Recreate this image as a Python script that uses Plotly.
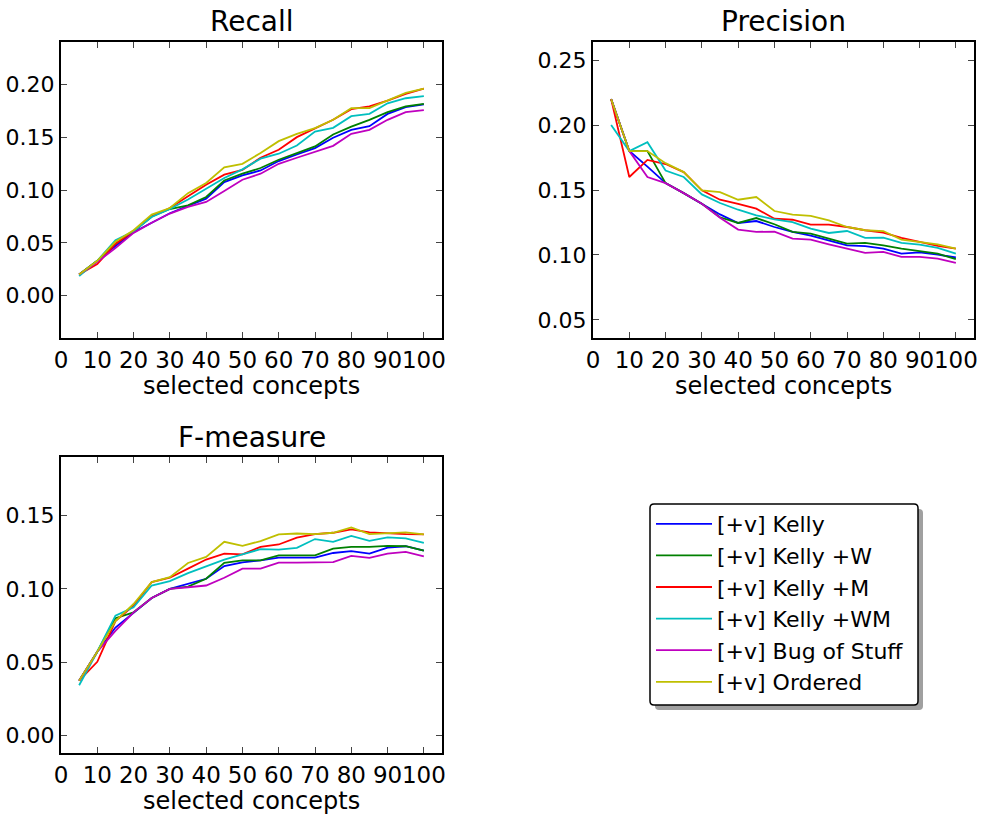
import plotly.graph_objects as go

concepts = [5, 10, 15, 20, 25, 30, 35, 40, 45, 50, 55, 60, 65, 70, 75, 80, 85, 90, 95, 100]

series_names = ["[+v] Kelly", "[+v] Kelly +W", "[+v] Kelly +M", "[+v] Kelly +WM",
                "[+v] Bug of Stuff", "[+v] Ordered"]
series_colors = ["#0000ff", "#008000", "#ff0000", "#00bfbf", "#bf00bf", "#bfbf00"]

recall_kelly   = [0.020, 0.033, 0.047, 0.060, 0.069, 0.078, 0.085, 0.0918, 0.1075, 0.1138, 0.1185, 0.1274, 0.1336, 0.1396, 0.1494, 0.1569, 0.1604, 0.1720, 0.1783, 0.1810]
recall_kelly_w = [0.020, 0.033, 0.049, 0.061, 0.075, 0.082, 0.0855, 0.0934, 0.1090, 0.1154, 0.1208, 0.1286, 0.1349, 0.1412, 0.1525, 0.1600, 0.1664, 0.1736, 0.1792, 0.1814]
recall_kelly_m = [0.020, 0.030, 0.049, 0.061, 0.075, 0.083, 0.094, 0.105, 0.1145, 0.1190, 0.1305, 0.1380, 0.1500, 0.1585, 0.1664, 0.1764, 0.1792, 0.1846, 0.1909, 0.1959]
recall_kelly_wm = [0.0186, 0.033, 0.0525, 0.061, 0.0745, 0.082, 0.091, 0.101, 0.1113, 0.1195, 0.1296, 0.1343, 0.1421, 0.1553, 0.1588, 0.1698, 0.1720, 0.1820, 0.1868, 0.1887]
recall_bug     = [0.020, 0.032, 0.045, 0.0594, 0.069, 0.0777, 0.084, 0.0887, 0.099, 0.1097, 0.1154, 0.1248, 0.1305, 0.1358, 0.1418, 0.1531, 0.1569, 0.1664, 0.1736, 0.1755]
recall_ordered = [0.020, 0.033, 0.051, 0.062, 0.0767, 0.083, 0.097, 0.1066, 0.1214, 0.1248, 0.1350, 0.1462, 0.1531, 0.1585, 0.1664, 0.1774, 0.1774, 0.1846, 0.1918, 0.1959]

precision_kelly   = [0.220, 0.180, 0.168, 0.1553, 0.1476, 0.1394, 0.1312, 0.1246, 0.1261, 0.1215, 0.1177, 0.1149, 0.1113, 0.1074, 0.1067, 0.1049, 0.1010, 0.1020, 0.1003, 0.0980]
precision_kelly_w = [0.220, 0.180, 0.180, 0.1553, 0.1476, 0.1394, 0.1290, 0.1246, 0.1284, 0.1236, 0.1177, 0.1164, 0.1125, 0.1087, 0.1092, 0.1074, 0.1049, 0.1028, 0.1010, 0.0967]
precision_kelly_m = [0.220, 0.160, 0.1732, 0.170, 0.1638, 0.1497, 0.1425, 0.1394, 0.1356, 0.1279, 0.1271, 0.1233, 0.1233, 0.1215, 0.1190, 0.1172, 0.1131, 0.1100, 0.1069, 0.1049]
precision_kelly_wm = [0.200, 0.180, 0.1868, 0.165, 0.160, 0.1466, 0.140, 0.1348, 0.1305, 0.1274, 0.1253, 0.1202, 0.1169, 0.1184, 0.1131, 0.1133, 0.1092, 0.1079, 0.1054, 0.1010]
precision_bug     = [0.220, 0.180, 0.160, 0.1553, 0.1476, 0.1394, 0.1287, 0.1195, 0.1177, 0.1180, 0.1125, 0.1118, 0.1082, 0.1049, 0.1015, 0.1023, 0.0985, 0.0985, 0.0972, 0.0939]
precision_ordered = [0.220, 0.180, 0.180, 0.1707, 0.1638, 0.1497, 0.1484, 0.1425, 0.1446, 0.1338, 0.1310, 0.1300, 0.1266, 0.1215, 0.1190, 0.1184, 0.1118, 0.1100, 0.1082, 0.1049]

fmeasure_kelly   = [0.0374, 0.0571, 0.0736, 0.084, 0.0938, 0.100, 0.1034, 0.1069, 0.1156, 0.1181, 0.1195, 0.1213, 0.1213, 0.1213, 0.1245, 0.1257, 0.1241, 0.1282, 0.1291, 0.1261]
fmeasure_kelly_w = [0.0374, 0.0571, 0.080, 0.084, 0.0938, 0.100, 0.1016, 0.1069, 0.1177, 0.1195, 0.1195, 0.1229, 0.1229, 0.1229, 0.1275, 0.1287, 0.1287, 0.1294, 0.1291, 0.1261]
fmeasure_kelly_m = [0.0374, 0.0502, 0.078, 0.0885, 0.1046, 0.1076, 0.1138, 0.1200, 0.1241, 0.1236, 0.1287, 0.1303, 0.1349, 0.1374, 0.1383, 0.1406, 0.1385, 0.1378, 0.1374, 0.1372]
fmeasure_kelly_wm = [0.0342, 0.0571, 0.0817, 0.0874, 0.1023, 0.1053, 0.1108, 0.1154, 0.1200, 0.1236, 0.1271, 0.1268, 0.1280, 0.1340, 0.1321, 0.1362, 0.1328, 0.1351, 0.1344, 0.1314]
fmeasure_bug     = [0.0374, 0.0571, 0.0713, 0.084, 0.0938, 0.100, 0.1011, 0.1023, 0.1076, 0.1138, 0.1138, 0.1179, 0.1179, 0.1179, 0.1183, 0.1225, 0.1211, 0.1241, 0.1252, 0.1222]
fmeasure_ordered = [0.0374, 0.0571, 0.078, 0.0897, 0.1046, 0.1080, 0.1177, 0.1218, 0.1321, 0.1294, 0.1326, 0.1372, 0.1378, 0.1374, 0.1383, 0.1420, 0.1374, 0.1378, 0.1385, 0.1372]

x_ticks = [0, 10, 20, 30, 40, 50, 60, 70, 80, 90, 100]
recall_yticks = [0.00, 0.05, 0.10, 0.15, 0.20]
precision_yticks = [0.05, 0.10, 0.15, 0.20, 0.25]
fmeasure_yticks = [0.00, 0.05, 0.10, 0.15]

recall = [recall_kelly, recall_kelly_w, recall_kelly_m, recall_kelly_wm, recall_bug, recall_ordered]
precision = [precision_kelly, precision_kelly_w, precision_kelly_m, precision_kelly_wm, precision_bug, precision_ordered]
fmeasure = [fmeasure_kelly, fmeasure_kelly_w, fmeasure_kelly_m, fmeasure_kelly_wm, fmeasure_bug, fmeasure_ordered]

W, H = 981, 816
FONT = "DejaVu Sans"

fig = go.Figure()

panels = [
    ("x", "y", recall, True),
    ("x2", "y2", precision, False),
    ("x3", "y3", fmeasure, False),
]
for xa, ya, data, show in panels:
    for i, (name, color) in enumerate(zip(series_names, series_colors)):
        fig.add_trace(go.Scatter(
            x=concepts, y=data[i], mode="lines", name=name,
            line=dict(color=color, width=1.8),
            xaxis=xa, yaxis=ya, showlegend=show, legendgroup=name,
        ))

def px_x(a, b):
    return [a / W, b / W]

def px_y(top, bottom):
    return [1 - bottom / H, 1 - top / H]

axis_common = dict(
    showline=True, linecolor="black", linewidth=2, mirror="ticks",
    ticks="inside", ticklen=6, tickwidth=1, tickcolor="#444444",
    showgrid=False, zeroline=False, fixedrange=True,
    automargin=False, tickangle=0,
)
XTF = dict(size=23)
YTF = dict(size=22)

fig.update_layout(
    width=W, height=H, margin=dict(l=0, r=0, t=0, b=0, autoexpand=False),
    paper_bgcolor="white", plot_bgcolor="white",
    font=dict(family=FONT, color="black"),
    xaxis=dict(domain=px_x(61, 442), range=[0, 105], tickvals=x_ticks,
               tickfont=XTF, anchor="y", **axis_common),
    yaxis=dict(domain=px_y(42, 338), range=[-0.04, 0.24], tickvals=recall_yticks,
               tickformat=".2f", tickfont=YTF, anchor="x", **axis_common),
    xaxis2=dict(domain=px_x(593, 974), range=[0, 105], tickvals=x_ticks,
                tickfont=XTF, anchor="y2", **axis_common),
    yaxis2=dict(domain=px_y(42, 338), range=[0.036, 0.264], tickvals=precision_yticks,
                tickformat=".2f", tickfont=YTF, anchor="x2", **axis_common),
    xaxis3=dict(domain=px_x(61, 442), range=[0, 105], tickvals=x_ticks,
                tickfont=XTF, anchor="y3", **axis_common),
    yaxis3=dict(domain=px_y(457, 753), range=[-0.012, 0.19], tickvals=fmeasure_yticks,
                tickformat=".2f", tickfont=YTF, anchor="x3", **axis_common),
    legend=dict(
        x=651 / W, y=1 - 503 / H, xanchor="left", yanchor="top",
        bgcolor="rgba(0,0,0,0)", borderwidth=0,
        font=dict(family=FONT, size=22, color="black"),
        itemwidth=56, tracegroupgap=0,
    ),
)

# titles and axis labels
titles = [("Recall", 251.5, 21), ("Precision", 783.5, 21), ("F-measure", 251.5, 437)]
for text, cx, cy in titles:
    fig.add_annotation(text=text, x=cx / W, y=1 - cy / H, xref="paper", yref="paper",
                       showarrow=False, font=dict(size=28, family=FONT), xanchor="center", yanchor="middle")
for cx, cy in [(251.5, 385.5), (783.5, 385.5), (251.5, 800.5)]:
    fig.add_annotation(text="selected concepts", x=cx / W, y=1 - cy / H, xref="paper", yref="paper",
                       showarrow=False, font=dict(size=24, family=FONT), xanchor="center", yanchor="middle")

# legend frame with shadow
def rounded(x0, y0, x1, y1, r):
    X = lambda v: v / W
    Y = lambda v: 1 - v / H
    return (f"M {X(x0 + r)},{Y(y0)} L {X(x1 - r)},{Y(y0)} Q {X(x1)},{Y(y0)} {X(x1)},{Y(y0 + r)} "
            f"L {X(x1)},{Y(y1 - r)} Q {X(x1)},{Y(y1)} {X(x1 - r)},{Y(y1)} "
            f"L {X(x0 + r)},{Y(y1)} Q {X(x0)},{Y(y1)} {X(x0)},{Y(y1 - r)} "
            f"L {X(x0)},{Y(y0 + r)} Q {X(x0)},{Y(y0)} {X(x0 + r)},{Y(y0)} Z")

fig.add_shape(type="path", path=rounded(655, 509, 923, 710, 4), xref="paper", yref="paper",
              fillcolor="#a0a0a0", line=dict(width=0), layer="below")
fig.add_shape(type="path", path=rounded(650, 504, 918, 705, 4), xref="paper", yref="paper",
              fillcolor="white", line=dict(color="black", width=1.5), layer="below")

fig.write_html("out.html")
